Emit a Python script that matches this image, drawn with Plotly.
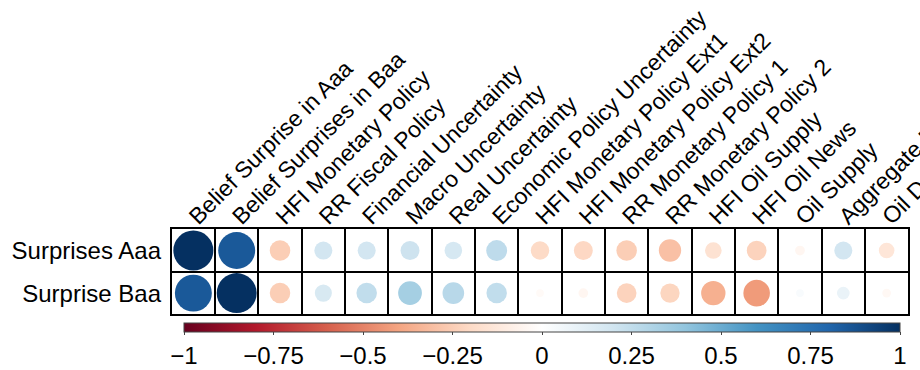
import numpy as np
import plotly.graph_objects as go

columns = ["Belief Surprise in Aaa", "Belief Surprises in Baa", "HFI Monetary Policy",
           "RR Fiscal Policy", "Financial Uncertainty", "Macro Uncertainty",
           "Real Uncertainty", "Economic Policy Uncertainty", "HFI Monetary Policy Ext1",
           "HFI Monetary Policy Ext2", "RR Monetary Policy 1", "RR Monetary Policy 2",
           "HFI Oil Supply", "HFI Oil News", "Oil Supply", "Aggregate Demand", "Oil Demand"]
rows = ["Surprises Aaa", "Surprise Baa"]
corr_aaa = [1.00, 0.85, -0.25, 0.19, 0.19, 0.21, 0.18, 0.26, -0.20, -0.21, -0.25, -0.30,
            -0.16, -0.23, -0.05, 0.19, -0.14]
corr_baa = [0.85, 1.00, -0.25, 0.17, 0.25, 0.34, 0.28, 0.25, -0.03, -0.05, -0.23, -0.22,
            -0.36, -0.43, 0.03, 0.09, -0.04]
cbar_ticks = [-1, -0.75, -0.5, -0.25, 0, 0.25, 0.5, 0.75, 1]

W, H = 920, 370
x0px, x1px = 171.7, 908.3
y0px, y1px = 233.0, 319.6
cell = (x1px - x0px) / len(columns)

rdbu = ["#67001F", "#B2182B", "#D6604D", "#F4A582", "#FDDBC7", "#FFFFFF",
        "#D1E5F0", "#92C5DE", "#4393C3", "#2166AC", "#053061"]
cscale = [[i / (len(rdbu) - 1), c] for i, c in enumerate(rdbu)]

xs, ys, vals = [], [], []
for ri, series in enumerate([corr_aaa, corr_baa]):
    for ci, v in enumerate(series):
        xs.append(ci + 1)
        ys.append(ri + 1)
        vals.append(v)
vals = np.array(vals)
sizes = 0.9 * np.sqrt(np.abs(vals)) * cell + 1

def fmt(t):
    s = ("%g" % t)
    return s.replace("-", "\u2212")

font = "Liberation Sans, Arial, sans-serif"
fs = 24

fig = go.Figure(go.Scatter(
    x=xs, y=ys, mode="markers",
    marker=dict(size=sizes, color=vals, cmin=-1, cmax=1, colorscale=cscale,
                line=dict(width=0), opacity=1,
                colorbar=dict(orientation="h", x=(184 + 900) / 2 / W, xanchor="center",
                              len=(900 - 184) / W, lenmode="fraction", thickness=8.5,
                              y=1 - 328.3 / H, yanchor="top", xpad=0, ypad=0,
                              outlinewidth=1, outlinecolor="#444",
                              tickvals=cbar_ticks, ticktext=[fmt(t) for t in cbar_ticks],
                              ticks="outside", ticklen=3, tickcolor="#444",
                              tickfont=dict(size=fs, color="black", family=font))),
    hoverinfo="skip", showlegend=False))

fig.update_layout(
    width=W, height=H, margin=dict(l=0, r=0, t=0, b=0),
    paper_bgcolor="white", plot_bgcolor="white",
    font=dict(family=font, size=fs, color="black"),
    xaxis=dict(domain=[x0px / W, x1px / W], range=[0.5, len(columns) + 0.5], side="top",
               tickvals=list(range(1, len(columns) + 1)), ticktext=columns,
               tickangle=-45, showgrid=False, zeroline=False, ticks="",
               tickfont=dict(size=23),
               ticklabeloverflow="allow", ticklabelstandoff=-11, ticklabelshift=-3,
               showline=True, mirror=True, linecolor="black", linewidth=1.8,
               minor=dict(tick0=0.5, dtick=1, showgrid=True, gridcolor="black",
                          gridwidth=1.8, ticks=""),
               automargin=False, fixedrange=True),
    yaxis=dict(domain=[1 - y1px / H, 1 - y0px / H], range=[len(rows) + 0.5, 0.5],
               tickvals=[1, 2], ticktext=rows, showgrid=False, zeroline=False, ticks="",
               ticklabeloverflow="allow", ticklabelstandoff=4,
               showline=True, mirror=True, linecolor="black", linewidth=1.8,
               minor=dict(tick0=0.5, dtick=1, showgrid=True, gridcolor="black",
                          gridwidth=1.8, ticks=""),
               automargin=False, fixedrange=True),
)

fig.write_html("out.html")
